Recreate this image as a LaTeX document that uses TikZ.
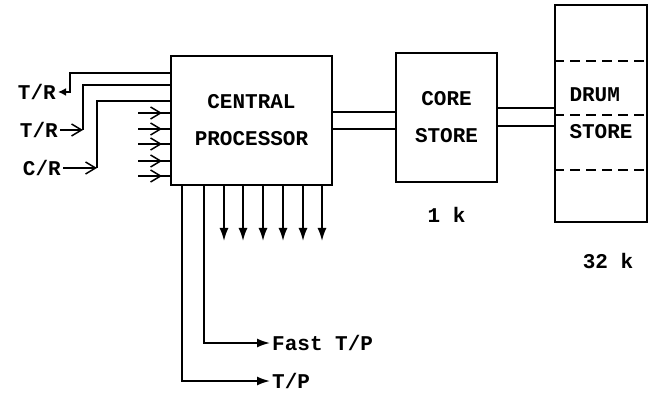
\documentclass[tikz,border=0pt]{standalone}
\usepackage{fontspec}
\setmonofont{Liberation Mono}
\usetikzlibrary{arrows.meta, positioning}

\begin{document}
\begin{tikzpicture}[
    x=1pt, y=-1pt,
    unit/.style={rectangle, draw, line width=2pt, align=center,
                 font=\ttfamily\bfseries\fontsize{21}{37}\selectfont},
    wire/.style={line width=1.7pt},
    inarrow/.style={wire, -{Straight Barb[length=10pt,width=12pt,line width=1.5pt]}},
    outarrow/.style={wire, -{Latex[length=13pt,width=9pt]}},
    backarrow/.style={wire, -{Latex[length=8pt,width=8pt]}},
    tag/.style={font=\ttfamily\bfseries\fontsize{21}{24}\selectfont, inner sep=2pt},
    dashline/.style={line width=2pt, dash pattern=on 10pt off 6pt}
]
    \useasboundingbox (0,0) rectangle (655,395);

    \node[unit, minimum width=161pt, minimum height=129pt] (cpu) at (251.5,120.5) {CENTRAL\\PROCESSOR};
    \node[unit, minimum width=101pt, minimum height=129pt] (core) at (446.5,117.5) {CORE\\STORE};
    \node[unit, minimum width=92pt, minimum height=217pt, align=left] (drum) at (601,113.5) {DRUM\\STORE};

    % drum sections
    \foreach \y in {61,115,170}
        \draw[dashline] (drum.west |- 0,\y) -- (drum.east |- 0,\y);

    % double links between units
    \foreach \y in {112,129}
        \draw[wire] (cpu.east |- 0,\y) -- (core.west |- 0,\y);
    \foreach \y in {108,126}
        \draw[wire] (core.east |- 0,\y) -- (drum.west |- 0,\y);

    \node[tag, below=22pt of core] (corecap) {1 k};
    \node[tag, below=28pt of drum, xshift=7pt] (drumcap) {32 k};

    % readers and punch
    \node[tag, anchor=east] (tr1) at (58,92) {T/R};
    \node[tag, anchor=east] (tr2) at (60,130) {T/R};
    \node[tag, anchor=east] (cr) at (63,168) {C/R};

    \coordinate (k1) at (70,92);
    \coordinate (k2) at (83,130);
    \coordinate (k3) at (97,168);
    \draw[backarrow] (cpu.west |- 0,73) -| (k1) -- (tr1.east);
    \draw[inarrow] (tr2.east) -- (k2);
    \draw[wire] (k2) |- (cpu.west |- 0,85);
    \draw[inarrow] (cr.east) -- (k3);
    \draw[wire] (k3) |- (cpu.west |- 0,101);

    % other inputs
    \foreach \y [count=\i] in {113,129,144,161,176} {
        \coordinate (in\i) at (138,\y);
        \draw[wire] (in\i) -- (cpu.west |- in\i);
        \draw[inarrow] (in\i) -- ++(24,0);
    }

    % outputs
    \foreach \x [count=\i] in {224,243,263,283,303,322} {
        \coordinate (out\i) at (\x,241);
        \draw[outarrow] (cpu.south -| out\i) -- (out\i);
    }

    \node[tag, anchor=west] (ftp) at (270,343) {Fast T/P};
    \node[tag, anchor=west] (tp) at (270,381) {T/P};
    \draw[outarrow] (cpu.south -| 204,0) |- (ftp.west);
    \draw[outarrow] (cpu.south -| 182,0) |- (tp.west);
\end{tikzpicture}
\end{document}
